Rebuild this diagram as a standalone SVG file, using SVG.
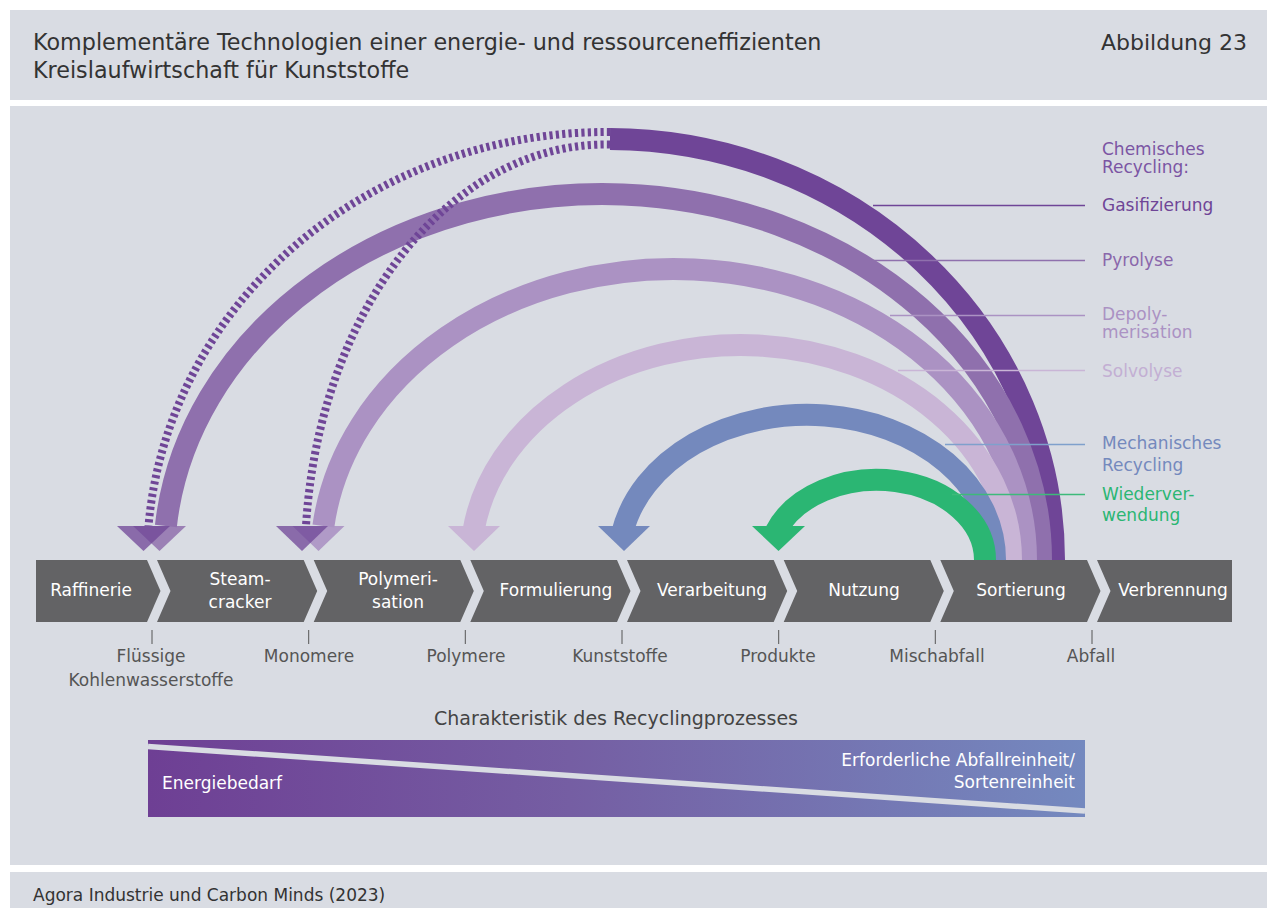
<svg xmlns="http://www.w3.org/2000/svg" width="1267" height="908" viewBox="0 0 1267 908">
<defs>
<style>
text{font-family:"DejaVu Sans","Liberation Sans",sans-serif}
.panel{fill:#d9dce3}
.title{font-size:22.25px;fill:#333}
.step{fill:#636365}
.stxt{font-size:17px;fill:#fff;text-anchor:middle}
.btxt{font-size:17px;fill:#555;text-anchor:middle}
.tick{stroke:#555;stroke-width:1}
.lbl{font-size:17px}
.band{fill:none;stroke-width:22}
.dash{fill:none;stroke:#6f4597;stroke-width:8;stroke-dasharray:3.2 3.2}
.lead{stroke-width:1.5}
</style>
<linearGradient id="grad" x1="0" y1="0" x2="1" y2="0">
<stop offset="0" stop-color="#6e3f94"/>
<stop offset="0.45" stop-color="#755ea3"/>
<stop offset="1" stop-color="#7489bf"/>
</linearGradient>
</defs>
<rect width="1267" height="908" fill="#fff"/>
<rect class="panel" x="10" y="10" width="1257" height="90"/>
<rect class="panel" x="10" y="106" width="1257" height="759"/>
<rect class="panel" x="10" y="872" width="1257" height="36"/>

<g id="header">
<text class="title" x="33" y="50">Komplementäre Technologien einer energie- und ressourceneffizienten</text>
<text class="title" x="33" y="78">Kreislaufwirtschaft für Kunststoffe</text>
<text class="title" x="1247" y="50" text-anchor="end" style="font-size:22px">Abbildung 23</text>
</g>

<g id="connectors">
<path class="band" stroke="#6f4597" d="M 1054 560 A 446 421 0 0 0 610 139"/>
<path class="band" stroke="#8f70ad" d="M 1041 560 A 438.5 366 0 0 0 165.9 526"/>
<path class="band" stroke="#ab92c3" d="M 1026 560 A 352.5 291 0 0 0 323.4 526"/>
<path class="band" stroke="#c9b5d6" d="M 1011 560 A 270 215 0 0 0 473.3 532"/>
<path class="band" stroke="#7489bd" d="M 995 560 A 188 145 0 0 0 622.5 532"/>
<path class="band" stroke="#2bb673" d="M 985 560 A 108.1 80 0 0 0 775.6 532"/>
<path class="dash" d="M 610 132 A 461 428 0 0 0 148.5 526"/>
<path class="dash" d="M 610 144.5 A 301 415.5 0 0 0 306 526"/>
<polygon points="133,526 186,526 159.5,551" fill="#8f70ad" fill-opacity="0.85"/>
<polygon points="117,526 170,526 143.5,551" fill="#6f4597" fill-opacity="0.75"/>
<polygon points="292.5,526 344.5,526 318.5,551" fill="#ab92c3" fill-opacity="0.9"/>
<polygon points="276,526 328,526 302,551" fill="#6f4597" fill-opacity="0.75"/>
<polygon points="448,526 500,526 474,551" fill="#c9b5d6"/>
<polygon points="598,526 650,526 624,551" fill="#7489bd"/>
<polygon points="752,526 805,526 778.5,551" fill="#2bb673"/>
</g>

<g id="leaders">
<line class="lead" stroke="#6f4597" x1="873" y1="205.5" x2="1085" y2="205.5"/>
<line class="lead" stroke="#8f70ad" x1="873" y1="260.5" x2="1085" y2="260.5"/>
<line class="lead" stroke="#ab92c3" x1="890" y1="315.5" x2="1085" y2="315.5"/>
<line class="lead" stroke="#c9b5d6" x1="898" y1="370.5" x2="1085" y2="370.5"/>
<line class="lead" stroke="#7fa0cc" x1="945" y1="444.5" x2="1085" y2="444.5"/>
<line class="lead" stroke="#3dba7a" x1="952" y1="494.5" x2="1085" y2="494.5"/>
</g>

<g id="legend">
<text class="lbl" fill="#7b55a3" x="1102" y="155">Chemisches</text>
<text class="lbl" fill="#7b55a3" x="1102" y="173">Recycling:</text>
<text class="lbl" fill="#6f4597" x="1102" y="211">Gasifizierung</text>
<text class="lbl" fill="#8a67ab" x="1102" y="266">Pyrolyse</text>
<text class="lbl" fill="#ab92c3" x="1102" y="320">Depoly-</text>
<text class="lbl" fill="#ab92c3" x="1102" y="338">merisation</text>
<text class="lbl" fill="#c3afd3" x="1102" y="377">Solvolyse</text>
<text class="lbl" fill="#7489bd" x="1102" y="449">Mechanisches</text>
<text class="lbl" fill="#7489bd" x="1102" y="471">Recycling</text>
<text class="lbl" fill="#2bb673" x="1102" y="500">Wiederver-</text>
<text class="lbl" fill="#2bb673" x="1102" y="521">wendung</text>
</g>

<g id="step-raffinerie"><polygon class="step" points="36,560 147,560 160.5,591 147,622 36,622"/><text class="stxt" x="91" y="596">Raffinerie</text></g>
<g id="step-steamcracker"><polygon class="step" points="157,560 303.7,560 317.2,591 303.7,622 157,622 170.5,591"/><text class="stxt" x="240" y="585">Steam-</text><text class="stxt" x="240" y="608">cracker</text></g>
<g id="step-polymerisation"><polygon class="step" points="313.7,560 460.3,560 473.8,591 460.3,622 313.7,622 327.2,591"/><text class="stxt" x="398" y="585">Polymeri-</text><text class="stxt" x="398" y="608">sation</text></g>
<g id="step-formulierung"><polygon class="step" points="470.3,560 617,560 630.5,591 617,622 470.3,622 483.8,591"/><text class="stxt" x="556" y="596">Formulierung</text></g>
<g id="step-verarbeitung"><polygon class="step" points="627,560 773.7,560 787.2,591 773.7,622 627,622 640.5,591"/><text class="stxt" x="712" y="596">Verarbeitung</text></g>
<g id="step-nutzung"><polygon class="step" points="783.7,560 930.3,560 943.8,591 930.3,622 783.7,622 797.2,591"/><text class="stxt" x="864" y="596">Nutzung</text></g>
<g id="step-sortierung"><polygon class="step" points="940.3,560 1087,560 1100.5,591 1087,622 940.3,622 953.8,591"/><text class="stxt" x="1021" y="596">Sortierung</text></g>
<g id="step-verbrennung"><polygon class="step" points="1097,560 1232,560 1232,622 1097,622 1110.5,591"/><text class="stxt" x="1173" y="596">Verbrennung</text></g>

<g id="outputs">
<line class="tick" x1="152" y1="630" x2="152" y2="644"/>
<line class="tick" x1="308.7" y1="630" x2="308.7" y2="644"/>
<line class="tick" x1="465.3" y1="630" x2="465.3" y2="644"/>
<line class="tick" x1="622" y1="630" x2="622" y2="644"/>
<line class="tick" x1="778.7" y1="630" x2="778.7" y2="644"/>
<line class="tick" x1="935.3" y1="630" x2="935.3" y2="644"/>
<line class="tick" x1="1092" y1="630" x2="1092" y2="644"/>
<text class="btxt" x="151" y="662">Flüssige</text>
<text class="btxt" x="151" y="686">Kohlenwasserstoffe</text>
<text class="btxt" x="309" y="662">Monomere</text>
<text class="btxt" x="466" y="662">Polymere</text>
<text class="btxt" x="620" y="662">Kunststoffe</text>
<text class="btxt" x="778" y="662">Produkte</text>
<text class="btxt" x="937" y="662">Mischabfall</text>
<text class="btxt" x="1091" y="662">Abfall</text>
</g>

<g id="characteristics">
<text x="616" y="725" font-size="19" fill="#444" text-anchor="middle">Charakteristik des Recyclingprozesses</text>
<rect x="148" y="740" width="937" height="77" fill="url(#grad)"/>
<line x1="148" y1="746.5" x2="1085" y2="811" stroke="#d9dce3" stroke-width="5.5"/>
<text x="162" y="789" font-size="17" fill="#fff">Energiebedarf</text>
<text x="1075" y="766" font-size="17" fill="#fff" text-anchor="end">Erforderliche Abfallreinheit/</text>
<text x="1075" y="788" font-size="17" fill="#fff" text-anchor="end">Sortenreinheit</text>
</g>

<g id="footer">
<text x="33" y="901" font-size="17" fill="#333">Agora Industrie und Carbon Minds (2023)</text>
</g>
</svg>
